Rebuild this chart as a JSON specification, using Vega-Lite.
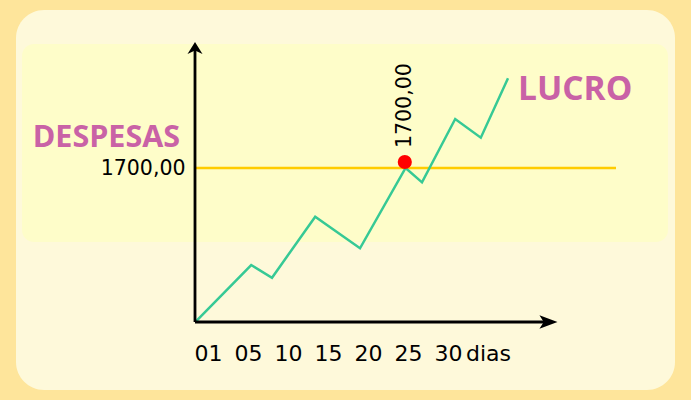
{
  "$schema": "https://vega.github.io/schema/vega-lite/v6.json",
  "width": 659,
  "height": 380,
  "autosize": {"type": "none"},
  "padding": {"left": 16, "right": 16, "top": 10, "bottom": 10},
  "background": "#fee59b",
  "config": {
    "view": {"fill": "#fef9da", "stroke": null, "cornerRadius": 28},
    "font": "DejaVu Sans",
    "axis": {"grid": false, "domain": false, "ticks": false}
  },
  "datasets": {
    "lucro": [
      {"dia": -1.6, "valor": 0},
      {"dia": 5.4, "valor": 629},
      {"dia": 8.0, "valor": 489},
      {"dia": 13.4, "valor": 1162},
      {"dia": 19.0, "valor": 814},
      {"dia": 24.7, "valor": 1700},
      {"dia": 26.75, "valor": 1542},
      {"dia": 30.9, "valor": 2241},
      {"dia": 34.1, "valor": 2035},
      {"dia": 37.5, "valor": 2690}
    ]
  },
  "layer": [
    {
      "data": {"values": [{}]},
      "mark": {"type": "rect", "cornerRadius": 12, "color": "#fefdc9"},
      "encoding": {
        "x": {"datum": -23.25, "type": "quantitative", "scale": {"domain": [-24, 58.375], "nice": false, "zero": false}},
        "x2": {"datum": 57.5},
        "y": {"datum": 3069, "type": "quantitative", "scale": {"domain": [-750.6, 3444.2], "nice": false, "zero": false}},
        "y2": {"datum": 883}
      }
    },
    {
      "data": {"values": [{}]},
      "mark": {"type": "rule", "color": "#ffcc00", "strokeWidth": 2.5},
      "encoding": {
        "x": {"datum": -1.625, "type": "quantitative", "scale": {"domain": [-24, 58.375], "nice": false, "zero": false}},
        "x2": {"datum": 51},
        "y": {"datum": 1700, "type": "quantitative", "scale": {"domain": [-750.6, 3444.2], "nice": false, "zero": false}}
      }
    },
    {
      "data": {"name": "lucro"},
      "mark": {"type": "line", "color": "#36c995", "strokeWidth": 2.5},
      "encoding": {
        "x": {
          "field": "dia", "type": "quantitative",
          "scale": {"domain": [-24, 58.375], "nice": false, "zero": false},
          "axis": {
            "orient": "bottom", "offset": -47, "title": null, "zindex": 2,
            "values": [0, 5, 10, 15, 20, 25, 30, 35],
            "labelExpr": "datum.value == 0 ? '01' : datum.value == 35 ? 'dias' : datum.value < 10 ? '0' + datum.value : '' + datum.value",
            "labelPadding": 0, "labelFontSize": 22, "labelColor": "#000000",
            "labelOverlap": false, "labelFlush": false, "labelFont": "DejaVu Sans"
          }
        },
        "y": {
          "field": "valor", "type": "quantitative",
          "scale": {"domain": [-750.6, 3444.2], "nice": false, "zero": false},
          "axis": {
            "orient": "left", "offset": -169, "title": null, "zindex": 2,
            "values": [1700],
            "labelExpr": "'1700,00'",
            "labelPadding": 0, "labelFontSize": 20.5, "labelColor": "#000000",
            "labelFlush": false, "labelFont": "DejaVu Sans"
          }
        }
      }
    },
    {
      "data": {"values": [{}]},
      "mark": {"type": "rule", "color": "#000000", "strokeWidth": 2.8},
      "encoding": {
        "x": {"datum": -1.625, "type": "quantitative", "scale": {"domain": [-24, 58.375], "nice": false, "zero": false}},
        "y": {"datum": 0, "type": "quantitative", "scale": {"domain": [-750.6, 3444.2], "nice": false, "zero": false}},
        "y2": {"datum": 3003}
      }
    },
    {
      "data": {"values": [{}]},
      "mark": {"type": "rule", "color": "#000000", "strokeWidth": 2.8},
      "encoding": {
        "x": {"datum": -1.625, "type": "quantitative", "scale": {"domain": [-24, 58.375], "nice": false, "zero": false}},
        "x2": {"datum": 42},
        "y": {"datum": 0, "type": "quantitative", "scale": {"domain": [-750.6, 3444.2], "nice": false, "zero": false}}
      }
    },
    {
      "data": {"values": [{}]},
      "mark": {"type": "point", "filled": true, "opacity": 1, "color": "#000000", "size": 225, "shape": "M0,-0.8L1,0.8L0,0.35L-1,0.8Z"},
      "encoding": {
        "x": {"datum": -1.625, "type": "quantitative", "scale": {"domain": [-24, 58.375], "nice": false, "zero": false}},
        "y": {"datum": 3025, "type": "quantitative", "scale": {"domain": [-750.6, 3444.2], "nice": false, "zero": false}}
      }
    },
    {
      "data": {"values": [{}]},
      "mark": {"type": "point", "filled": true, "opacity": 1, "color": "#000000", "size": 361, "shape": "M1,0L-0.9,-0.7L-0.45,0L-0.9,0.7Z"},
      "encoding": {
        "x": {"datum": 42.5, "type": "quantitative", "scale": {"domain": [-24, 58.375], "nice": false, "zero": false}},
        "y": {"datum": 0, "type": "quantitative", "scale": {"domain": [-750.6, 3444.2], "nice": false, "zero": false}}
      }
    },
    {
      "data": {"values": [{}]},
      "mark": {"type": "point", "filled": true, "opacity": 1, "color": "#ff0000", "size": 200, "shape": "circle", "yOffset": -6},
      "encoding": {
        "x": {"datum": 24.6, "type": "quantitative", "scale": {"domain": [-24, 58.375], "nice": false, "zero": false}},
        "y": {"datum": 1700, "type": "quantitative", "scale": {"domain": [-750.6, 3444.2], "nice": false, "zero": false}}
      }
    },
    {
      "data": {"values": [{}]},
      "mark": {"type": "text", "text": "1700,00", "angle": 270, "align": "left", "baseline": "middle", "dx": 20, "fontSize": 20.5, "font": "DejaVu Sans", "color": "#000000"},
      "encoding": {
        "x": {"datum": 24.6, "type": "quantitative", "scale": {"domain": [-24, 58.375], "nice": false, "zero": false}},
        "y": {"datum": 1700, "type": "quantitative", "scale": {"domain": [-750.6, 3444.2], "nice": false, "zero": false}}
      }
    },
    {
      "data": {"values": [{}]},
      "mark": {"type": "text", "text": "DESPESAS", "align": "center", "baseline": "alphabetic", "fontSize": 30.5, "font": "Open Sans", "fontWeight": "bold", "color": "#c962a6"},
      "encoding": {
        "x": {"datum": -12.7, "type": "quantitative", "scale": {"domain": [-24, 58.375], "nice": false, "zero": false}},
        "y": {"datum": 1932, "type": "quantitative", "scale": {"domain": [-750.6, 3444.2], "nice": false, "zero": false}}
      }
    },
    {
      "data": {"values": [{}]},
      "mark": {"type": "text", "text": "LUCRO", "align": "center", "baseline": "alphabetic", "fontSize": 33.5, "font": "Open Sans", "fontWeight": "bold", "color": "#c962a6"},
      "encoding": {
        "x": {"datum": 45.9, "type": "quantitative", "scale": {"domain": [-24, 58.375], "nice": false, "zero": false}},
        "y": {"datum": 2451, "type": "quantitative", "scale": {"domain": [-750.6, 3444.2], "nice": false, "zero": false}}
      }
    }
  ]
}
